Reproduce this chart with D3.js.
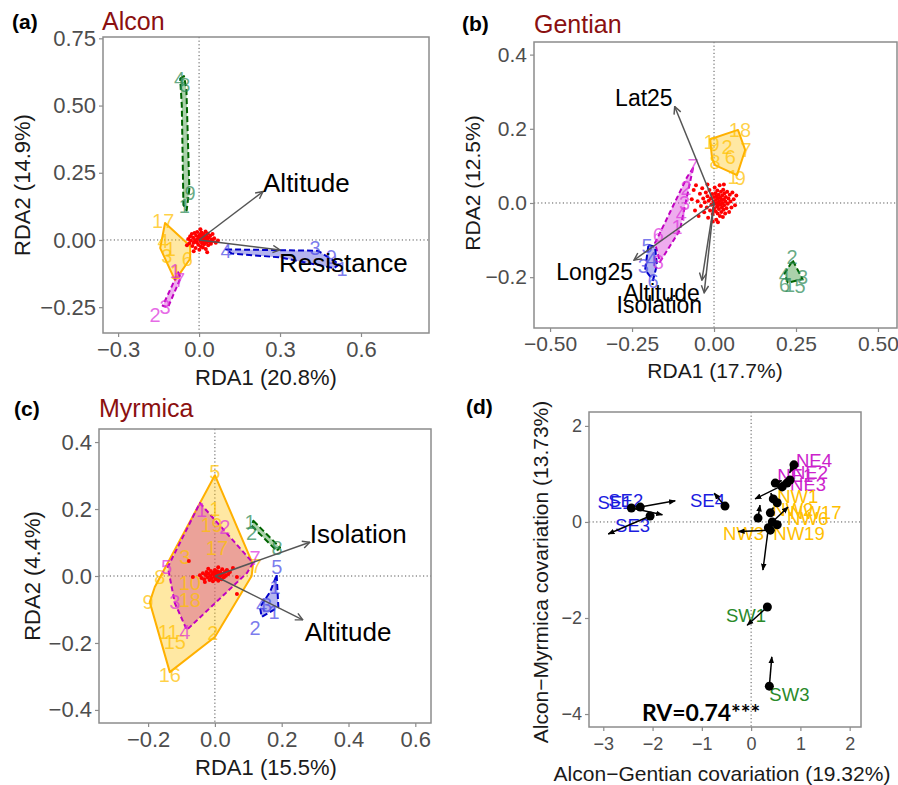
<!DOCTYPE html>
<html>
<head>
<meta charset="utf-8">
<script src="https://cdn.jsdelivr.net/npm/d3@7"></script>
<style>
  body { margin: 0; background: #fff; }
  .zero { stroke: #555; stroke-width: 1; stroke-dasharray: 1.2,2.4; }
</style>
</head>
<body>
<svg id="chart" width="898" height="785"></svg>
<script>
const FONT = '"Liberation Sans", Arial, sans-serif';

// ---------- (a) Alcon ----------
const aRed = [[-0.04,0.004],[-0.036,-0.012],[-0.033,0.014],[-0.03,-0.002],[-0.027,0.022],[-0.025,-0.022],[-0.022,0.008],[-0.02,-0.01],[-0.017,0.026],[-0.015,0.0],[-0.013,-0.03],[-0.011,0.016],[-0.009,-0.008],[-0.007,0.03],[-0.005,0.004],[-0.003,-0.018],[-0.001,0.012],[0.001,-0.036],[0.003,0.02],[0.004,-0.004],[0.006,0.008],[0.007,-0.024],[0.009,0.028],[0.01,0.0],[0.011,-0.012],[0.013,0.016],[0.014,-0.028],[0.015,0.006],[0.017,-0.006],[0.018,0.022],[0.019,-0.016],[0.021,0.01],[0.022,-0.002],[0.024,0.032],[0.025,-0.034],[0.027,0.014],[0.028,-0.01],[0.03,0.004],[0.032,0.024],[0.034,-0.02],[0.036,0.008],[0.038,-0.006],[0.041,0.016],[0.044,-0.014],[0.047,0.002],[0.051,-0.004],[0.056,0.006],[0.062,-0.01],[0.07,-0.002],[-0.045,-0.02],[-0.02,-0.042],[0.005,0.04],[0.03,-0.046],[0.05,0.022]];
const aGreenHull = [[-0.07,0.6],[-0.056,0.61],[-0.047,0.56],[-0.036,0.19],[-0.046,0.11],[-0.058,0.13],[-0.064,0.5]];
const aOrangeHull = [[-0.126,0.063],[-0.033,-0.022],[-0.033,-0.07],[-0.089,-0.15],[-0.144,-0.03]];
const aMagentaHull = [[-0.078,-0.12],[-0.068,-0.14],[-0.115,-0.25],[-0.135,-0.245],[-0.1,-0.17]];
const aBlueHull = [[0.1,-0.035],[0.44,-0.04],[0.52,-0.09],[0.5,-0.105],[0.3,-0.065],[0.12,-0.05]];
const aLabels = [
  ["4",-0.072,0.6,"green"],["8",-0.053,0.575,"green"],["9",-0.033,0.175,"green"],["1",-0.055,0.125,"green"],
  ["17",-0.133,0.07,"orange"],["4",-0.133,-0.004,"orange"],["1",-0.107,-0.035,"orange"],["3",-0.12,-0.06,"orange"],["6",-0.044,-0.07,"orange"],["1",-0.085,-0.12,"orange"],
  ["1",-0.089,-0.114,"magenta"],["7",-0.072,-0.15,"magenta"],["2",-0.163,-0.28,"magenta"],["3",-0.126,-0.25,"magenta"],
  ["4",0.1,-0.04,"blue"],["3",0.43,-0.03,"blue"],["9",0.49,-0.063,"blue"],["1",0.53,-0.107,"blue"]
];
const aVectors = [["Altitude",0.237,0.18],["Resistance",0.3,-0.037]];

// ---------- (b) Gentian ----------
const bRed = [[-0.068,0.01],[-0.062,0.035],[-0.058,-0.02],[-0.055,0.048],[-0.05,0.005],[-0.047,-0.035],[-0.043,0.025],[-0.04,-0.008],[-0.036,0.04],[-0.033,0.012],[-0.03,-0.025],[-0.028,0.002],[-0.025,0.028],[-0.022,-0.012],[-0.02,0.018],[-0.018,-0.04],[-0.016,0.006],[-0.014,0.035],[-0.012,-0.02],[-0.01,0.012],[-0.008,-0.005],[-0.006,0.024],[-0.004,-0.03],[-0.002,0.004],[0.0,0.016],[0.0,-0.015],[0.002,0.042],[0.003,-0.002],[0.004,0.026],[0.005,-0.022],[0.006,0.008],[0.007,-0.045],[0.008,0.018],[0.009,-0.01],[0.01,0.034],[0.01,0.0],[0.011,-0.028],[0.012,0.012],[0.013,-0.006],[0.014,0.022],[0.015,-0.016],[0.016,0.004],[0.017,0.048],[0.018,-0.035],[0.019,0.014],[0.02,-0.004],[0.021,0.03],[0.022,-0.024],[0.023,0.008],[0.024,-0.012],[0.025,0.02],[0.026,0.0],[0.027,-0.038],[0.028,0.036],[0.029,-0.018],[0.03,0.01],[0.031,-0.006],[0.032,0.026],[0.034,-0.028],[0.035,0.004],[0.036,0.016],[0.038,-0.014],[0.04,0.03],[0.042,-0.002],[0.044,0.012],[0.046,-0.024],[0.048,0.022],[0.05,0.004],[0.053,-0.012],[0.056,0.028],[0.06,0.01],[0.064,-0.006],[0.068,0.02],[-0.004,-0.05],[0.012,-0.052],[0.03,0.05],[-0.02,0.05]];
const bOrangeHull = [[-0.012,0.172],[0.073,0.197],[0.095,0.143],[0.07,0.075],[0.003,0.102],[-0.006,0.12]];
const bMagentaHull = [[-0.064,0.094],[-0.104,-0.073],[-0.165,-0.159],[-0.18,-0.108],[-0.082,0.07]];
const bBlueHull = [[-0.2,-0.113],[-0.18,-0.118],[-0.174,-0.167],[-0.186,-0.208],[-0.21,-0.18]];
const bGreenHull = [[0.24,-0.155],[0.27,-0.205],[0.225,-0.215],[0.215,-0.19]];
const bLabels = [
  ["1",-0.015,0.165,"orange"],["9",0.0,0.16,"orange"],["18",0.079,0.197,"orange"],["7",0.098,0.143,"orange"],["8",0.003,0.11,"orange"],["2",0.04,0.15,"orange"],["6",0.05,0.124,"orange"],["1",0.058,0.07,"orange"],["9",0.08,0.068,"orange"],
  ["7",-0.064,0.1,"magenta"],["2",-0.085,0.04,"magenta"],["3",-0.09,0.0,"magenta"],["4",-0.1,-0.03,"magenta"],["1",-0.113,-0.065,"magenta"],["6",-0.17,-0.086,"magenta"],["8",-0.17,-0.159,"magenta"],
  ["5",-0.204,-0.115,"blue"],["4",-0.19,-0.15,"blue"],["3",-0.216,-0.17,"blue"],["6",-0.186,-0.21,"blue"],
  ["2",0.238,-0.145,"green"],["4",0.214,-0.195,"green"],["3",0.27,-0.2,"green"],["5",0.262,-0.225,"green"],["1",0.23,-0.222,"green"],["6",0.215,-0.22,"green"]
];
const bVectors = [["Lat25",-0.12,0.26],["Long25",-0.244,-0.154],["Altitude",-0.037,-0.208],["Isolation",-0.03,-0.242]];

// ---------- (c) Myrmica ----------
const cRed = [[-0.045,0.002],[-0.04,-0.006],[-0.036,0.008],[-0.032,-0.01],[-0.028,0.003],[-0.025,0.012],[-0.022,-0.004],[-0.019,0.007],[-0.016,-0.012],[-0.014,0.0],[-0.012,0.015],[-0.01,-0.007],[-0.008,0.006],[-0.006,-0.016],[-0.004,0.01],[-0.002,-0.002],[0.0,0.018],[0.0,0.004],[0.002,-0.01],[0.004,0.008],[0.005,-0.004],[0.007,0.014],[0.008,0.0],[0.01,-0.014],[0.012,0.006],[0.014,-0.006],[0.016,0.012],[0.018,0.002],[0.02,-0.01],[0.022,0.02],[0.024,0.006],[0.027,-0.004],[0.03,0.012],[0.033,0.001],[0.036,0.016],[0.04,0.006],[-0.02,0.022],[0.01,0.026],[-0.03,-0.018],[0.045,0.012],[-0.078,0.045],[-0.066,-0.003],[0.066,-0.003],[0.054,0.024],[0.066,-0.054],[0.036,0.018]];
const cOrangeHull = [[0.0,0.301],[0.114,0.035],[0.11,0.0],[0.0,-0.182],[-0.135,-0.287],[-0.195,-0.078],[-0.18,-0.033]];
const cMagentaHull = [[-0.045,0.218],[0.114,0.039],[0.096,0.009],[-0.084,-0.161],[-0.12,-0.081],[-0.141,0.027]];
const cGreenHull = [[0.115,0.165],[0.195,0.085],[0.185,0.075],[0.11,0.15]];
const cBlueHull = [[0.185,0.003],[0.19,-0.093],[0.14,-0.122],[0.135,-0.093],[0.165,-0.048]];
const cLabels = [
  ["5",0.0,0.31,"orange"],["1",0.0,0.2,"orange"],["19",-0.01,0.152,"orange"],["17",0.006,0.084,"orange"],["3",-0.09,0.057,"orange"],["8",-0.165,-0.003,"orange"],["9",-0.2,-0.078,"orange"],["10",-0.075,-0.021,"orange"],["18",-0.075,-0.072,"orange"],["11",-0.14,-0.167,"orange"],["15",-0.12,-0.197,"orange"],["2",-0.006,-0.17,"orange"],["16",-0.135,-0.296,"orange"],["7",0.125,0.03,"orange"],
  ["1",-0.04,0.197,"magenta"],["2",0.03,0.146,"magenta"],["5",-0.145,0.027,"magenta"],["7",0.12,0.054,"magenta"],["3",-0.12,-0.078,"magenta"],["4",-0.09,-0.167,"magenta"],
  ["1",0.105,0.161,"green"],["2",0.11,0.128,"green"],["8",0.186,0.084,"green"],
  ["5",0.185,0.027,"blue"],["1",0.18,-0.033,"blue"],["4",0.14,-0.087,"blue"],["3",0.155,-0.087,"blue"],["1",0.177,-0.107,"blue"],["2",0.12,-0.155,"blue"]
];
const cVectors = [["Isolation",0.284,0.101],["Altitude",0.263,-0.131]];

// ---------- (d) co-inertia ----------
// [x, y, arrowX, arrowY]
const dPoints = [
  [-2.43,0.29,-1.8,0.15],[-2.25,0.31,-1.54,0.44],[-2.05,0.125,-2.9,-0.25],[-0.53,0.33,-0.75,0.6],
  [0.87,1.19,0.78,1.02],[0.49,0.81,0.62,0.86],[0.73,0.81,0.08,0.48],[0.79,0.875,0.6,0.8],[0.63,0.73,0.7,0.85],
  [0.45,0.48,0.4,0.6],[0.53,0.4,0.5,0.5],[0.14,0.08,0.18,0.35],[0.39,0.19,0.45,0.3],[0.43,0.0,0.75,0.31],
  [0.35,-0.12,0.24,-1.0],[0.39,-0.17,-0.26,-0.2],[0.53,-0.06,0.6,0.0],
  [0.33,-1.77,-0.08,-2.15],[0.37,-3.42,0.42,-2.81]
];
const dLabels = [
  ["SE1",-3.12,0.4,"SE"],["SE2",-2.9,0.44,"SE"],["SE3",-2.76,-0.08,"SE"],["SE4",-1.24,0.44,"SE"],
  ["NE4",0.91,1.29,"NE"],["NE1",0.53,0.96,"NE"],["NE2",0.83,1.02,"NE"],["NE3",0.79,0.79,"NE"],
  ["NW1",0.53,0.52,"NW"],["NW2",0.43,0.25,"NW"],["NW17",0.79,0.19,"NW"],["NW6",0.73,0.08,"NW"],["NW3",-0.57,-0.25,"NW"],["NW19",0.45,-0.25,"NW"],
  ["SW1",-0.51,-1.94,"SW"],["SW3",0.37,-3.6,"SW"]
];

const GROUP = {
  orange:  {fill: "#ffc20e", op: 0.38, stroke: "#ffb000", dash: null,  text: "#ffc000"},
  magenta: {fill: "#d63ad6", op: 0.42, stroke: "#c000c0", dash: "5,3", text: "#dd33dd"},
  rose:    {fill: "#d0408c", op: 0.42, stroke: "#c000c0", dash: "5,3", text: "#dd33dd"},
  blue:    {fill: "#3a3ad6", op: 0.38, stroke: "#0000c8", dash: "6,3", text: "#4a4ae6"},
  green:   {fill: "#2e8b2e", op: 0.4,  stroke: "#006400", dash: "6,3", text: "#2e8b57"}
};
const DCOL = {SE: "#1c1ce0", NE: "#cc22cc", NW: "#ffc000", SW: "#2a8a2a"};

const svg = d3.select("#chart");
const defs = svg.append("defs");
defs.append("marker").attr("id", "grayHead")
  .attr("viewBox", "0 0 10 10").attr("refX", 9).attr("refY", 5)
  .attr("markerWidth", 9).attr("markerHeight", 9).attr("markerUnits", "userSpaceOnUse")
  .attr("orient", "auto")
  .append("path").attr("d", "M1,1 L9,5 L1,9").attr("fill", "none").attr("stroke", "#555").attr("stroke-width", 1.6);
defs.append("marker").attr("id", "blackHead")
  .attr("viewBox", "0 0 10 10").attr("refX", 9).attr("refY", 5)
  .attr("markerWidth", 7).attr("markerHeight", 7).attr("markerUnits", "userSpaceOnUse")
  .attr("orient", "auto")
  .append("path").attr("d", "M0,1 L10,5 L0,9 Z").attr("fill", "#000");

function panel(p) {
  const x = d3.scaleLinear().domain(p.xDomain).range([p.left, p.right]);
  const y = d3.scaleLinear().domain(p.yDomain).range([p.bottom, p.top]);
  const g = svg.append("g");

  g.append("line").attr("class", "zero")
    .attr("x1", x(0)).attr("x2", x(0)).attr("y1", p.top).attr("y2", p.bottom);
  g.append("line").attr("class", "zero")
    .attr("x1", p.left).attr("x2", p.right).attr("y1", y(0)).attr("y2", y(0));

  const xa = g.append("g").attr("transform", `translate(0,${p.bottom})`)
    .call(d3.axisBottom(x).tickValues(p.xTicks).tickFormat(d3.format(p.xFmt)).tickSize(4).tickPadding(p.padX));
  const ya = g.append("g").attr("transform", `translate(${p.left},0)`)
    .call(d3.axisLeft(y).tickValues(p.yTicks).tickFormat(d3.format(p.yFmt)).tickSize(4).tickPadding(3));
  [xa, ya].forEach(a => {
    a.select(".domain").remove();
    a.selectAll(".tick line").attr("stroke", "#8c8c8c").attr("stroke-width", 1.2);
    a.selectAll(".tick text").attr("fill", "#4d4d4d")
      .style("font-size", p.tickFont + "px").style("font-family", FONT);
  });

  g.append("rect")
    .attr("x", p.left).attr("y", p.top)
    .attr("width", p.right - p.left).attr("height", p.bottom - p.top)
    .attr("fill", "none").attr("stroke", "#8c8c8c").attr("stroke-width", 1.5);

  // axis titles
  g.append("text").attr("x", p.xTitle[0]).attr("y", p.xTitle[1])
    .attr("text-anchor", "middle").attr("dominant-baseline", "central")
    .style("font-family", FONT).style("font-size", p.titleFont + "px").attr("fill", "#1a1a1a")
    .text(p.xLabel);
  g.append("text")
    .attr("transform", `translate(${p.yTitle[0]},${p.yTitle[1]}) rotate(-90)`)
    .attr("text-anchor", "middle").attr("dominant-baseline", "central")
    .style("font-family", FONT).style("font-size", p.titleFont + "px").attr("fill", "#1a1a1a")
    .text(p.yLabel);

  // panel tag and species name
  g.append("text").attr("x", p.tag[0]).attr("y", p.tag[1])
    .style("font-family", FONT).style("font-size", "21px").style("font-weight", "bold")
    .text(p.tagText);
  if (p.name) {
    g.append("text").attr("x", p.name[0]).attr("y", p.name[1])
      .style("font-family", FONT).style("font-size", "25px").attr("fill", "#8b1010")
      .text(p.nameText);
  }
  return {g, x, y};
}

function drawRda(p, hulls, labels, red, vectors, vecPos) {
  const {g, x, y} = panel(p);
  const line = d3.line().x(d => x(d[0])).y(d => y(d[1])).curve(d3.curveLinearClosed);

  hulls.forEach(([grp, pts]) => {
    const s = GROUP[grp];
    g.append("path").datum(pts).attr("d", line)
      .attr("fill", s.fill).attr("fill-opacity", s.op)
      .attr("stroke", s.stroke).attr("stroke-width", 2)
      .attr("stroke-dasharray", s.dash)
      .attr("stroke-linejoin", "round");
  });

  g.selectAll(null).data(labels).join("text")
    .attr("x", d => x(d[1])).attr("y", d => y(d[2]))
    .attr("text-anchor", "middle").attr("dominant-baseline", "central")
    .style("font-family", FONT).style("font-size", "20px")
    .attr("fill", d => GROUP[d[3]].text).attr("fill-opacity", 0.72)
    .text(d => d[0]);

  g.selectAll(null).data(red).join("circle")
    .attr("cx", d => x(d[0])).attr("cy", d => y(d[1])).attr("r", 2)
    .attr("fill", "#ff0000");

  g.selectAll(null).data(vectors).join("line")
    .attr("x1", x(0)).attr("y1", y(0))
    .attr("x2", d => x(d[1])).attr("y2", d => y(d[2]))
    .attr("stroke", "#555").attr("stroke-width", 1.5)
    .attr("marker-end", "url(#grayHead)");

  g.selectAll(null).data(vectors).join("text")
    .attr("x", (d, i) => x(d[1]) + vecPos[i][0])
    .attr("y", (d, i) => y(d[2]) + vecPos[i][1])
    .attr("text-anchor", (d, i) => vecPos[i][2])
    .attr("dominant-baseline", "central")
    .style("font-family", FONT).style("font-size", p.vecFont + "px").attr("fill", "#000")
    .text(d => d[0]);
}

drawRda({
  left: 103, right: 429, top: 37, bottom: 333,
  xDomain: [-0.356, 0.852], yDomain: [-0.346, 0.755],
  xTicks: [-0.3, 0, 0.3, 0.6], yTicks: [-0.25, 0, 0.25, 0.5, 0.75], xFmt: ".1f", yFmt: ".2f",
  tickFont: 22, titleFont: 22, vecFont: 26, padX: 4,
  xLabel: "RDA1 (20.8%)", yLabel: "RDA2 (14.9%)", xTitle: [266, 377], yTitle: [22, 185],
  tag: [12, 29], tagText: "(a)", name: [102, 30], nameText: "Alcon"
}, [["green", aGreenHull], ["orange", aOrangeHull], ["magenta", aMagentaHull], ["blue", aBlueHull]],
   aLabels, aRed, aVectors, [[0, -9, "start"], [-1, 13, "start"]]);

drawRda({
  left: 534, right: 897, top: 42, bottom: 328,
  xDomain: [-0.549, 0.558], yDomain: [-0.337, 0.434],
  xTicks: [-0.5, -0.25, 0, 0.25, 0.5], yTicks: [-0.2, 0, 0.2, 0.4], xFmt: ".2f", yFmt: ".1f",
  tickFont: 21, titleFont: 21, vecFont: 23, padX: 4,
  xLabel: "RDA1 (17.7%)", yLabel: "RDA2 (12.5%)", xTitle: [715, 370], yTitle: [472, 183],
  tag: [462, 31], tagText: "(b)", name: [534, 33], nameText: "Gentian"
}, [["orange", bOrangeHull], ["magenta", bMagentaHull], ["blue", bBlueHull], ["green", bGreenHull]],
   bLabels, bRed, bVectors, [[-2, -9, "end"], [-1, 12, "end"], [-2, 13, "end"], [-2, 12, "end"]]);

drawRda({
  left: 99, right: 431, top: 429, bottom: 723,
  xDomain: [-0.347, 0.647], yDomain: [-0.439, 0.439],
  xTicks: [-0.2, 0, 0.2, 0.4, 0.6], yTicks: [-0.4, -0.2, 0, 0.2, 0.4], xFmt: ".1f", yFmt: ".1f",
  tickFont: 22, titleFont: 22, vecFont: 26, padX: 4,
  xLabel: "RDA1 (15.5%)", yLabel: "RDA2 (4.4%)", xTitle: [266, 767], yTitle: [32, 576],
  tag: [14, 416], tagText: "(c)", name: [99, 417], nameText: "Myrmica"
}, [["orange", cOrangeHull], ["rose", cMagentaHull], ["green", cGreenHull], ["blue", cBlueHull]],
   cLabels, cRed, cVectors, [[0, -8, "start"], [2, 12, "start"]]);

// (d) co-inertia plot
(function () {
  const {g, x, y} = panel({
    left: 589, right: 861, top: 412, bottom: 727,
    xDomain: [-3.29, 2.23], yDomain: [-4.27, 2.29],
    xTicks: [-3, -2, -1, 0, 1, 2], yTicks: [-4, -2, 0, 2], xFmt: "d", yFmt: "d",
    tickFont: 18, titleFont: 21, padX: 6,
    xLabel: "Alcon\u2212Gentian covariation (19.32%)", yLabel: "Alcon\u2212Myrmica covariation (13.73%)",
    xTitle: [722, 773], yTitle: [540, 572],
    tag: [466, 414], tagText: "(d)"
  });

  g.selectAll(null).data(dLabels).join("text")
    .attr("x", d => x(d[1])).attr("y", d => y(d[2]))
    .attr("dominant-baseline", "central")
    .style("font-family", FONT).style("font-size", "18.5px")
    .attr("fill", d => DCOL[d[3]])
    .text(d => d[0]);

  g.selectAll(null).data(dPoints).join("line")
    .attr("x1", d => x(d[0])).attr("y1", d => y(d[1]))
    .attr("x2", d => x(d[2])).attr("y2", d => y(d[3]))
    .attr("stroke", "#000").attr("stroke-width", 1.5)
    .attr("marker-end", "url(#blackHead)");

  g.selectAll(null).data(dPoints).join("circle")
    .attr("cx", d => x(d[0])).attr("cy", d => y(d[1])).attr("r", 4.5)
    .attr("fill", "#000");

  g.append("text").attr("x", 642).attr("y", 721)
    .style("font-family", "Lato, 'Open Sans', sans-serif").style("font-size", "23px").style("font-weight", "bold")
    .text("RV=0.74***");
})();
</script>
</body>
</html>
